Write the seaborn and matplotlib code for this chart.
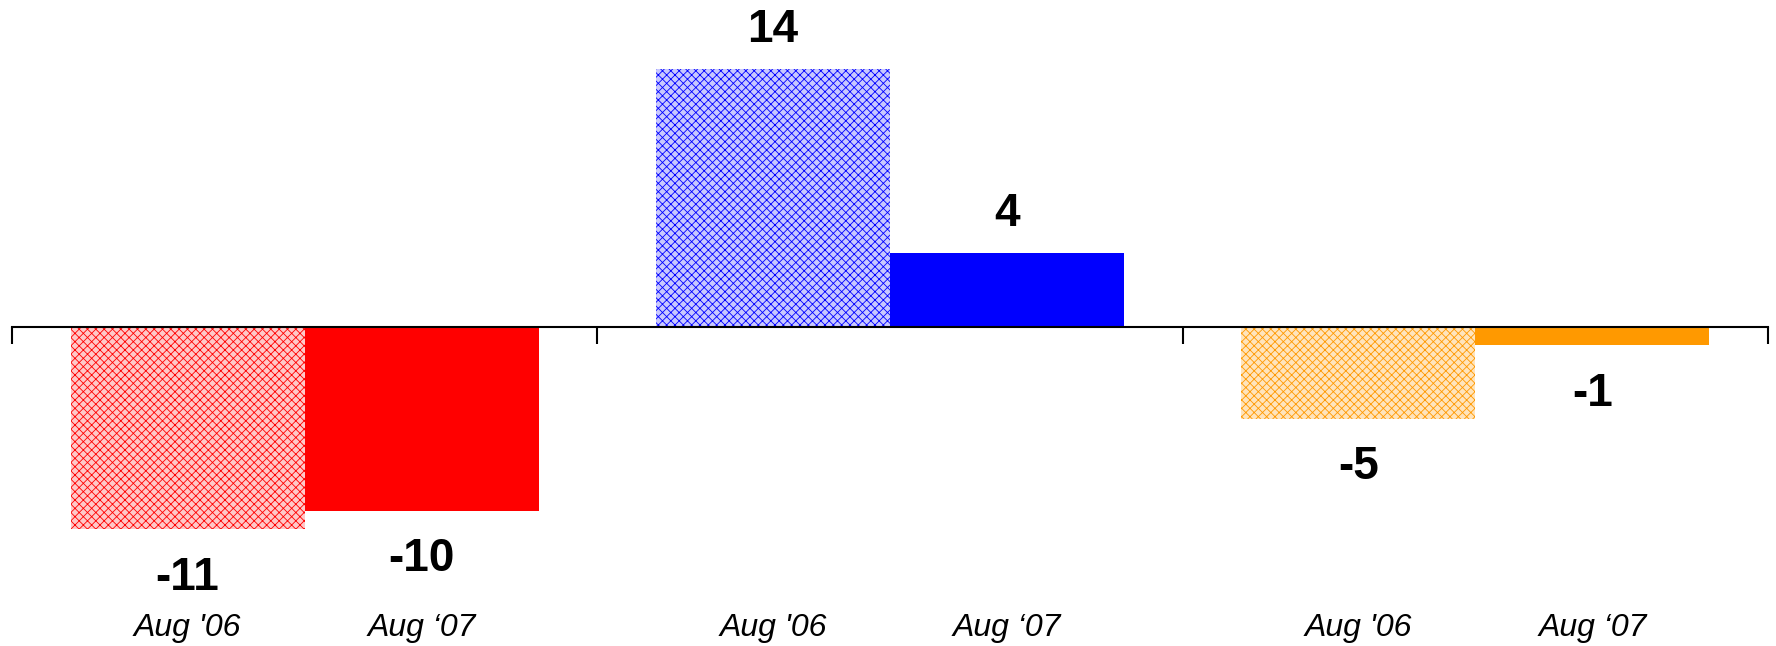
import matplotlib
matplotlib.use("Agg")
import matplotlib.pyplot as plt
import matplotlib.transforms as mtransforms
import seaborn as sns
import pandas as pd

# ---- data ----
groups = ["A", "B", "C"]
periods = ["Aug '06", "Aug \u201807"]
values_06 = [-11, 14, -5]
values_07 = [-10, 4, -1]
group_colors = ["#FF0000", "#0000FF", "#FF9900"]
hatched_faces = ["#FFC8C8", "#C8C8FF", "#FFE4BC"]

rows = []
for g, v6, v7 in zip(groups, values_06, values_07):
    rows.append({"group": g, "period": periods[0], "value": v6})
    rows.append({"group": g, "period": periods[1], "value": v7})
df = pd.DataFrame(rows)

sns.set_theme(style="white")
plt.rcParams["font.family"] = ["Liberation Sans", "DejaVu Sans"]
plt.rcParams["hatch.linewidth"] = 0.6

fig = plt.figure(figsize=(17.76, 6.46), dpi=100)
ax = fig.add_axes([12 / 1776, 1 - 621 / 646, (1768 - 12) / 1776, 589 / 646])

sns.barplot(data=df, x="group", y="value", hue="period", order=groups,
            hue_order=periods, width=0.8, ax=ax, legend=False,
            saturation=1, linewidth=0, errorbar=None)

# recolor bars: containers are per hue level
for hi, cont in enumerate(ax.containers):
    for gi, bar in enumerate(cont):
        if hi == 0:
            bar.set_facecolor(hatched_faces[gi])
            bar.set_edgecolor(group_colors[gi])
            bar.set_hatch("xxxx")
            bar.set_linewidth(0)
        else:
            bar.set_facecolor(group_colors[gi])
            bar.set_edgecolor(group_colors[gi])
            bar.set_linewidth(0)

ax.set_xlim(-0.5, 2.5)
ax.set_ylim(-16, 16)

for s in ["left", "top", "right"]:
    ax.spines[s].set_visible(False)
ax.spines["bottom"].set_position(("data", 0))
ax.spines["bottom"].set_color("black")
ax.spines["bottom"].set_linewidth(1.5)
ax.spines["bottom"].set_zorder(5)

ax.set_xticks([-0.5, 0.5, 1.5, 2.5])
ax.set_xticklabels([])
ax.tick_params(axis="x", direction="out", length=12, width=1.5, color="black",
               bottom=True)
ax.set_yticks([])
ax.set_xlabel("")
ax.set_ylabel("")
ax.grid(False)

# value labels
for hi, cont in enumerate(ax.containers):
    for gi, bar in enumerate(cont):
        v = bar.get_height()
        xc = bar.get_x() + bar.get_width() / 2
        off = 28 if v >= 0 else -35
        ax.annotate(f"{int(round(v))}", (xc, v), xytext=(0, off),
                    textcoords="offset points", ha="center", va="center",
                    fontsize=33, fontweight="bold", color="black")

# period labels at bottom
trans = mtransforms.blended_transform_factory(ax.transData, fig.transFigure)
for hi, cont in enumerate(ax.containers):
    for gi, bar in enumerate(cont):
        xc = bar.get_x() + bar.get_width() / 2
        ax.text(xc, 1 - 636 / 646, periods[hi], transform=trans, ha="center",
                va="baseline", fontsize=23, fontstyle="italic", color="black",
                clip_on=False)

fig.savefig("out.png", dpi=100)
